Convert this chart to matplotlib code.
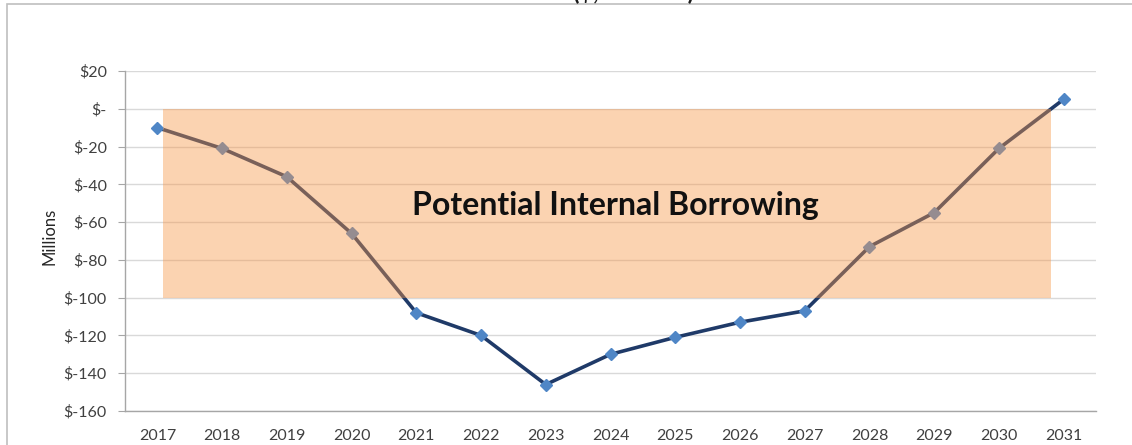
import matplotlib
matplotlib.use("Agg")
import matplotlib.pyplot as plt
from matplotlib.patches import Rectangle

# Projected balance by year, $ millions
years = ["2017", "2018", "2019", "2020", "2021", "2022", "2023", "2024",
         "2025", "2026", "2027", "2028", "2029", "2030", "2031"]
balance = [-10, -21, -36, -66, -108, -120, -146, -130, -121, -113, -107,
           -73, -55, -21, 5]

y_ticks = [20, 0, -20, -40, -60, -80, -100, -120, -140, -160]
y_tick_labels = ["$20", "$-", "$-20", "$-40", "$-60", "$-80", "$-100",
                 "$-120", "$-140", "$-160"]

band_top = 0
band_bottom = -100
band_label = "Potential Internal Borrowing"

plt.rcParams["font.family"] = ["Lato", "DejaVu Sans"]

W, H = 1132, 445
fig = plt.figure(figsize=(W / 100, H / 100), dpi=100)
fig.patch.set_facecolor("white")

# outer chart frame (runs off the right and bottom edges)
fig.patches.append(Rectangle((7 / W, -0.2), 2.0, (1 - 4 / H) + 0.2,
                             transform=fig.transFigure, fill=False,
                             edgecolor="#BFBFBF", linewidth=1.2))

# title, mostly above the canvas
fig.text(634 / W, 1 + 1.0 / H, "($, Millions)", ha="center", va="baseline",
         fontsize=17, fontweight="bold", color="#1a1a1a")

ax = fig.add_axes([125 / W, 1 - 411 / H, (1096 - 125) / W, (411 - 71) / H])
x = list(range(len(years)))

ax.plot(x, balance, color="#1F3A68", linewidth=2.6, marker="D",
        markersize=6.5, markerfacecolor="#4F86C6", markeredgecolor="#4F86C6",
        zorder=3)

# translucent band laid over the line
ax.add_patch(Rectangle((0.08, band_bottom), 13.72, band_top - band_bottom,
                       facecolor="#F79646", alpha=0.42, edgecolor="none",
                       zorder=4))
ax.text(7.08, (band_top + band_bottom) / 2 - 1, band_label, ha="center",
        va="center", fontsize=23, fontweight="bold", color="#111111",
        zorder=5)

ax.set_xlim(-0.5, len(years) - 0.5)
ax.set_ylim(-160, 20)
ax.set_xticks(x)
ax.set_xticklabels(years)
ax.set_yticks(y_ticks)
ax.set_yticklabels(y_tick_labels)

ax.grid(axis="y", color="#D9D9D9", linewidth=1.0, zorder=0)
ax.set_axisbelow(True)
for s in ("top", "right"):
    ax.spines[s].set_visible(False)
for s in ("left", "bottom"):
    ax.spines[s].set_color("#A6A6A6")
    ax.spines[s].set_linewidth(1.0)

ax.tick_params(axis="y", length=5, color="#A6A6A6", labelsize=11.5,
               labelcolor="#404040", pad=8)
ax.tick_params(axis="x", length=0, labelsize=11.5, labelcolor="#404040",
               pad=13)

ax.set_ylabel("Millions", fontsize=12, color="#262626")
ax.yaxis.set_label_coords(-0.070, 0.515)

fig.savefig("out.png", dpi=100, facecolor="white")
